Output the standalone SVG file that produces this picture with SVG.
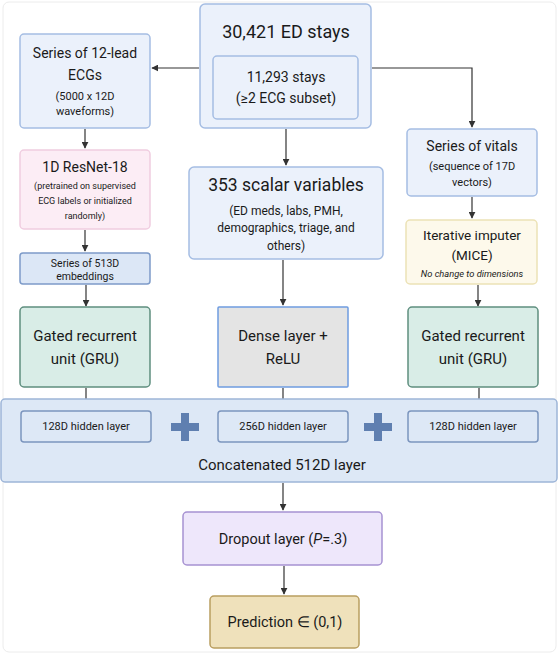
<svg xmlns="http://www.w3.org/2000/svg" width="560" height="657" viewBox="0 0 560 657">
<defs>
<marker id="ah" viewBox="0 0 10 10" refX="9" refY="5" markerWidth="7" markerHeight="7" markerUnits="userSpaceOnUse" orient="auto"><path d="M0,0 L10,5 L0,10 z" fill="#333"/></marker>
<style>
text{font-family:Roboto,"Liberation Sans",sans-serif;fill:#1a1a1a;text-anchor:middle;dominant-baseline:central}
.blue{fill:#ebf1fb;stroke:#a5bde3;stroke-width:1.5}
.pink{fill:#fcedf5;stroke:#f0cde0;stroke-width:1.5}
.emb{fill:#dce7f6;stroke:#7d9bc9;stroke-width:1.5}
.gru{fill:#d9ede7;stroke:#5f8f7f;stroke-width:1.5}
.dense{fill:#e4e4e4;stroke:#6f9ce0;stroke-width:1.5}
.mice{fill:#fdf9eb;stroke:#ece2b6;stroke-width:1.5}
.cat{fill:#dde8f6;stroke:#9db5d8;stroke-width:1.5}
.hid{fill:#dde8f6;stroke:#7b95be;stroke-width:1.5}
.drop{fill:#eee7fb;stroke:#a792d2;stroke-width:1.5}
.pred{fill:#efe1bb;stroke:#b99e60;stroke-width:1.5}
.c{fill:none;stroke:#333;stroke-width:1.2;marker-end:url(#ah)}
.plus{fill:#5f7fb0}
</style>
</defs>
<rect x="3" y="2" width="553" height="650" rx="6" fill="#fff" stroke="#ececec" stroke-width="1"/>
<g id="connectors">
<path class="c" d="M199,68 H152"/>
<path class="c" d="M372,68 H472 V127"/>
<path class="c" d="M286,129 V165"/>
<path class="c" d="M85,129 V148"/>
<path class="c" d="M85,230 V251"/>
<path class="c" d="M86,285 V306"/>
<path class="c" d="M472,197 V218"/>
<path class="c" d="M478,285 V306"/>
<path class="c" d="M283,260 V305"/>
<path class="c" d="M86,388 V410"/>
<path class="c" d="M283,388 V410"/>
<path class="c" d="M479,388 V410"/>
<path class="c" d="M283,483 V510"/>
<path class="c" d="M284,566 V594"/>
</g>
<g id="ed-stays">
<rect class="blue" x="200" y="4" width="171" height="124" rx="5"/>
<text x="286" y="31" font-size="18">30,421 ED stays</text>
</g>
<g id="ecg-subset">
<rect class="blue" x="213" y="56" width="145" height="63" rx="4"/>
<text x="286" y="77" font-size="14">11,293 stays</text>
<text x="286" y="98" font-size="14">(≥2 ECG subset)</text>
</g>
<g id="ecgs">
<rect class="blue" x="20" y="34" width="130" height="94" rx="4"/>
<text x="85" y="53" font-size="14">Series of 12-lead</text>
<text x="85" y="75" font-size="14">ECGs</text>
<text x="85" y="96" font-size="11">(5000 x 12D</text>
<text x="85" y="111" font-size="11">waveforms)</text>
</g>
<g id="resnet">
<rect class="pink" x="20" y="150" width="130" height="79" rx="4"/>
<text x="85" y="167" font-size="14">1D ResNet-18</text>
<text x="85" y="186" font-size="9">(pretrained on supervised</text>
<text x="85" y="201" font-size="9">ECG labels or initialized</text>
<text x="85" y="216" font-size="9">randomly)</text>
</g>
<g id="embeddings">
<rect class="emb" x="20" y="253" width="130" height="31" rx="3"/>
<text x="85" y="263" font-size="10.5">Series of 513D</text>
<text x="85" y="276" font-size="10.5">embeddings</text>
</g>
<g id="scalar">
<rect class="blue" x="189" y="167" width="194" height="92" rx="5"/>
<text x="286" y="185" font-size="17.5">353 scalar variables</text>
<text x="286" y="211" font-size="12">(ED meds, labs, PMH,</text>
<text x="286" y="228" font-size="12">demographics, triage, and</text>
<text x="286" y="246" font-size="12">others)</text>
</g>
<g id="vitals">
<rect class="blue" x="407" y="129" width="130" height="67" rx="4"/>
<text x="472" y="146" font-size="14">Series of vitals</text>
<text x="472" y="166" font-size="11">(sequence of 17D</text>
<text x="472" y="182" font-size="11">vectors)</text>
</g>
<g id="mice">
<rect class="mice" x="406" y="220" width="131" height="64" rx="4"/>
<text x="472" y="235" font-size="13.5">Iterative imputer</text>
<text x="472" y="255" font-size="13.5">(MICE)</text>
<text x="472" y="273" font-size="9.3" font-style="italic">No change to dimensions</text>
</g>
<g id="gru-left">
<rect class="gru" x="20" y="307" width="130" height="80" rx="4"/>
<text x="85" y="336" font-size="15">Gated recurrent</text>
<text x="85" y="359" font-size="15">unit (GRU)</text>
</g>
<g id="dense">
<rect class="dense" x="218" y="307" width="130" height="80" rx="1"/>
<text x="283" y="336" font-size="15">Dense layer +</text>
<text x="283" y="359" font-size="15">ReLU</text>
</g>
<g id="gru-right">
<rect class="gru" x="408" y="307" width="130" height="80" rx="4"/>
<text x="473" y="336" font-size="15">Gated recurrent</text>
<text x="473" y="359" font-size="15">unit (GRU)</text>
</g>
<g id="concat">
<rect class="cat" x="1" y="399" width="556" height="83" rx="4"/>
<text x="282" y="465" font-size="15">Concatenated 512D layer</text>
</g>
<g id="hidden-left">
<rect class="hid" x="21" y="411" width="130" height="31" rx="3"/>
<text x="86" y="426" font-size="11">128D hidden layer</text>
</g>
<g id="hidden-mid">
<rect class="hid" x="218" y="411" width="130" height="31" rx="3"/>
<text x="283" y="426" font-size="11">256D hidden layer</text>
</g>
<g id="hidden-right">
<rect class="hid" x="408" y="411" width="130" height="31" rx="3"/>
<text x="473" y="426" font-size="11">128D hidden layer</text>
</g>
<g id="plus-1">
<rect class="plus" x="171" y="423" width="28" height="8"/>
<rect class="plus" x="181" y="413" width="8" height="28"/>
</g>
<g id="plus-2">
<rect class="plus" x="364" y="423" width="28" height="8"/>
<rect class="plus" x="374" y="413" width="8" height="28"/>
</g>
<g id="dropout">
<rect class="drop" x="183" y="512" width="199" height="53" rx="4"/>
<text x="283" y="539" font-size="14.5">Dropout layer (<tspan font-style="italic">P</tspan>=.3)</text>
</g>
<g id="prediction">
<rect class="pred" x="210" y="596" width="149" height="52" rx="4"/>
<text x="285" y="622" font-size="14.5">Prediction ∈ (0,1)</text>
</g>
</svg>
